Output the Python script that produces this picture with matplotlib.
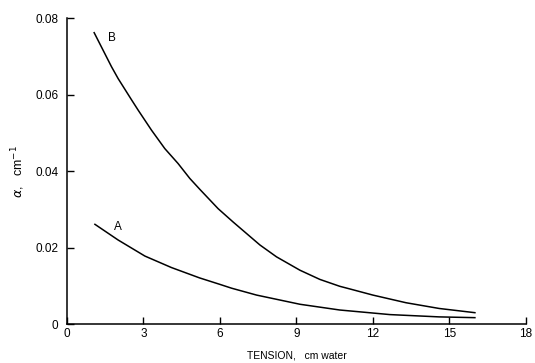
import matplotlib
matplotlib.use('Agg')
from matplotlib import pyplot as plt

# Curve B (upper)
b_tension = [1.07, 1.75, 2.01, 2.54, 2.80, 3.32, 3.84, 4.36, 4.82, 5.22, 5.93, 6.52,
             7.57, 8.22, 9.14, 9.92, 10.7, 11.1, 12.0, 13.3, 14.6, 16.0]
b_alpha = [0.0762, 0.0673, 0.0642, 0.0586, 0.0559, 0.0507, 0.0459, 0.0420, 0.0381, 0.0352, 0.0302, 0.0267,
           0.0207, 0.0176, 0.0141, 0.0117, 0.0099, 0.0092, 0.0076, 0.0056, 0.0041, 0.0030]

# Curve A (lower)
a_tension = [1.10, 2.01, 3.06, 4.1, 5.2, 6.0, 6.46, 7.44, 9.14, 10.7, 12.67, 14.6, 16.0]
a_alpha = [0.0261, 0.0220, 0.0178, 0.0148, 0.0121, 0.0104, 0.0094, 0.0076, 0.0052, 0.0037, 0.0025, 0.0019, 0.0017]

x_ticks = [0, 3, 6, 9, 12, 15, 18]
y_ticks = [0, 0.02, 0.04, 0.06, 0.08]
y_tick_labels = ['0', '0.02', '0.04', '0.06', '0.08']

plt.rcParams['font.family'] = ['Liberation Sans', 'DejaVu Sans']

fig = plt.figure(figsize=(5.35, 3.63), dpi=100)
ax = fig.add_axes([0.125, 0.107, 0.858, 0.843])

ax.plot(b_tension, b_alpha, color='black', lw=1.1, solid_joinstyle='round')
ax.plot(a_tension, a_alpha, color='black', lw=1.1, solid_joinstyle='round')
ax.text(1.78, 0.0748, 'B', fontsize=8.5, ha='center', va='center')
ax.text(2.0, 0.0255, 'A', fontsize=8.5, ha='center', va='center')

ax.set_xlim(0, 18)
ax.set_ylim(0, 0.08)
ax.set_xticks(x_ticks)
ax.set_xticklabels([str(t) for t in x_ticks])
ax.set_yticks(y_ticks)
ax.set_yticklabels(y_tick_labels)
ax.tick_params(direction='in', length=5, width=1, labelsize=8.5, colors='black')
ax.tick_params(axis='y', pad=6)
ax.tick_params(axis='x', pad=3)

for side in ['top', 'right']:
    ax.spines[side].set_visible(False)
for side in ['left', 'bottom']:
    ax.spines[side].set_linewidth(1.1)

ax.set_xlabel('TENSION,   cm water', fontsize=7.5, labelpad=7)
ax.set_ylabel(r'$\alpha$,   cm$^{-1}$', fontsize=9, labelpad=6)

fig.savefig('out.png', dpi=100)
